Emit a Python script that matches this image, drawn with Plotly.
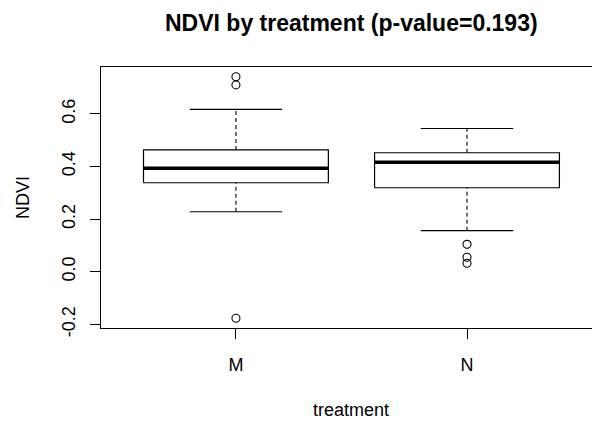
import plotly.graph_objects as go

# Five-number summaries and outliers of NDVI per treatment group
treatments = ["M", "N"]
positions = [1, 2]
q1 = [0.338, 0.319]
medians = [0.393, 0.416]
q3 = [0.463, 0.452]
whisker_low = [0.228, 0.156]
whisker_high = [0.617, 0.544]
outliers = [[0.741, 0.710, -0.177], [0.104, 0.055, 0.032]]

y_ticks = [-0.2, 0.0, 0.2, 0.4, 0.6]
y_tick_labels = ["-0.2", "0.0", "0.2", "0.4", "0.6"]

box_half = 0.4      # boxwex 0.8
cap_half = 0.2      # staple half width
FONT = "Liberation Sans, Arial, sans-serif"
INK = "#000000"

fig = go.Figure()

for pos, lo, a, m, b, hi, outs in zip(positions, whisker_low, q1, medians, q3,
                                      whisker_high, outliers):
    # box body
    fig.add_trace(go.Scatter(
        x=[pos - box_half, pos + box_half, pos + box_half, pos - box_half, pos - box_half],
        y=[a, a, b, b, a], mode="lines",
        line=dict(color=INK, width=1.2), hoverinfo="skip", showlegend=False))
    # dashed whiskers
    for y0, y1 in ((lo, a), (b, hi)):
        fig.add_trace(go.Scatter(
            x=[pos, pos], y=[y0, y1], mode="lines",
            line=dict(color=INK, width=1.1, dash="4px,3px"),
            hoverinfo="skip", showlegend=False))
    # staples
    for yv in (lo, hi):
        fig.add_trace(go.Scatter(
            x=[pos - cap_half, pos + cap_half], y=[yv, yv], mode="lines",
            line=dict(color=INK, width=1.1), hoverinfo="skip", showlegend=False))
    # median
    fig.add_trace(go.Scatter(
        x=[pos - box_half, pos + box_half], y=[m, m], mode="lines",
        line=dict(color=INK, width=3.6), hoverinfo="skip", showlegend=False))
    # outliers
    fig.add_trace(go.Scatter(
        x=[pos] * len(outs), y=outs, mode="markers",
        marker=dict(symbol="circle-open", size=8, color=INK, line=dict(width=1.1)),
        hoverinfo="skip", showlegend=False))

fig.update_layout(
    width=592, height=421,
    margin=dict(l=101, r=0, t=67, b=93),
    paper_bgcolor="white", plot_bgcolor="white",
    font=dict(family=FONT, size=18, color=INK),
    xaxis=dict(range=[0.416, 2.541], tickvals=positions, ticktext=treatments,
               ticks="outside", ticklen=10, tickwidth=1, tickcolor=INK,
               showgrid=False, zeroline=False,
               showline=True, mirror=True, linecolor=INK, linewidth=1.2,
               ticklabelstandoff=10),
    yaxis=dict(range=[-0.214, 0.778], tickvals=y_ticks, ticktext=y_tick_labels,
               tickangle=-90, ticks="outside", ticklen=10, tickwidth=1,
               tickcolor=INK, showgrid=False, zeroline=False,
               showline=True, mirror=False, linecolor=INK, linewidth=1.2,
               ticklabelstandoff=8),
    annotations=[
        dict(text="<b>NDVI by treatment (p-value=0.193)</b>", x=1.5, xref="x",
             y=1, yref="paper", yanchor="middle", yshift=44, showarrow=False,
             font=dict(size=23)),
        dict(text="treatment", x=1.5, xref="x", y=0, yref="paper",
             yanchor="middle", yshift=-82, showarrow=False, font=dict(size=18)),
        dict(text="NDVI", x=0, xref="paper", xshift=-78.5, y=0.5, yref="paper",
             xanchor="center", yanchor="middle", textangle=-90, showarrow=False,
             font=dict(size=18)),
    ],
)

fig.write_html("out.html")
